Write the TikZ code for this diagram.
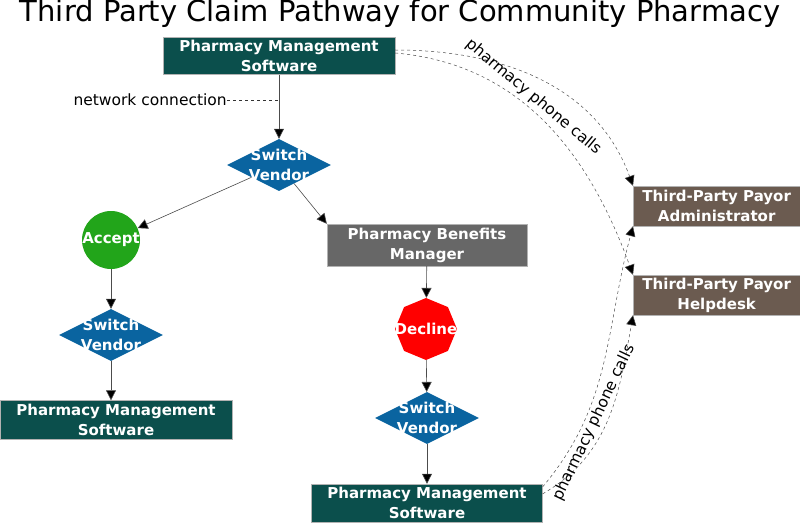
\documentclass[tikz,border=0pt]{standalone}
\usepackage{fontspec}
\setmainfont{DejaVu Sans}
\usetikzlibrary{shapes.geometric,arrows.meta}
\definecolor{pms}{HTML}{0B4F4C}
\definecolor{sw}{HTML}{0A64A0}
\definecolor{acc}{HTML}{22A51A}
\definecolor{pbm}{HTML}{676767}
\definecolor{tpp}{HTML}{6B5B50}
\begin{document}
\begin{tikzpicture}[x=1pt,y=-1pt,
 nf/.style={font=\bfseries\fontsize{15}{20}\selectfont},
 box/.style={nf,draw=white!70!black,text=white,align=center,inner sep=0pt},
 sw/.style={nf,diamond,fill=sw,text=white,align=center,minimum width=104pt,minimum height=52pt,inner xsep=-14pt,inner ysep=-8pt,aspect=2},
 arr/.style={-{Triangle[length=10pt,width=10pt,fill=black]},draw=black!70,line width=0.6pt},
 dsh/.style={-{Triangle[length=10pt,width=10pt,fill=black]},dashed,draw=black!70,line width=0.5pt},
 lab/.style={font=\fontsize{15.5}{18}\selectfont}]
\useasboundingbox (0,0) rectangle (800,524);
\node[font=\fontsize{29}{32}\selectfont] (title) at (400,14) {Third Party Claim Pathway for Community Pharmacy};
\node[box,fill=pms,minimum width=232pt,minimum height=37pt] (pms1) at (279,56) {Pharmacy Management\\Software};
\node[sw] (sw1) at (279,165) {Switch\\Vendor};
\node[nf,circle,fill=acc,text=white,minimum size=58pt,inner sep=-10pt] (acc) at (111,240) {Accept};
\node[sw] (sw2) at (111,335) {Switch\\Vendor};
\node[box,fill=pms,minimum width=232pt,minimum height=39pt] (pms2) at (116,420) {Pharmacy Management\\Software};
\node[box,fill=pbm,minimum width=200pt,minimum height=42pt] (pbm) at (427,245) {Pharmacy Benefits\\Manager};
\node[nf,regular polygon,regular polygon sides=8,shape border rotate=22.5,fill=red,text=white,minimum size=62pt,inner sep=-20pt] (dec) at (426,329) {Decline};
\node[sw] (sw3) at (427,418) {Switch\\Vendor};
\node[box,fill=pms,minimum width=231pt,minimum height=38pt] (pms3) at (427,503) {Pharmacy Management\\Software};
\node[box,fill=tpp,minimum width=167pt,minimum height=40pt,anchor=west] (tpa) at (633,206) {Third-Party Payor\\Administrator};
\node[box,fill=tpp,minimum width=167pt,minimum height=40pt,anchor=west] (tph) at (633,295) {Third-Party Payor\\Helpdesk};
\draw[arr] (pms1) -- (sw1);
\node[lab,anchor=east,inner sep=0pt] (net) at (227,100) {network connection};
\draw[dashed,draw=black!80,line width=0.5pt] (net.east) -- (279,100);
\draw[arr] (sw1) -- (acc);
\draw[arr] (sw1) -- (pbm.north west);
\draw[arr] (acc) -- (sw2);
\draw[arr] (sw2) -- (sw2 |- pms2.north);
\draw[arr] (pbm) -- (dec);
\draw[arr] (dec) -- (sw3);
\draw[arr] (sw3) -- (pms3);
\draw[dsh] (pms1.east) ++(0,-6) coordinate (a1) (a1) to[out=0,in=110] (tpa.north west);
\draw[dsh] (pms1.east) ++(0,-3) coordinate (a2) (a2) to[out=-5,in=110] node[lab,sloped,above,pos=0.42]{pharmacy phone calls} (tph.north west);
\draw[dsh] (pms3.north east) ++(0,3) coordinate (b1) (b1) to[out=50,in=-105] (tpa.south west);
\draw[dsh] (pms3.north east) ++(0,10) coordinate (b2) (b2) to[out=30,in=-100] node[lab,sloped,above,pos=0.45]{pharmacy phone calls} (tph.south west);
\end{tikzpicture}
\end{document}
